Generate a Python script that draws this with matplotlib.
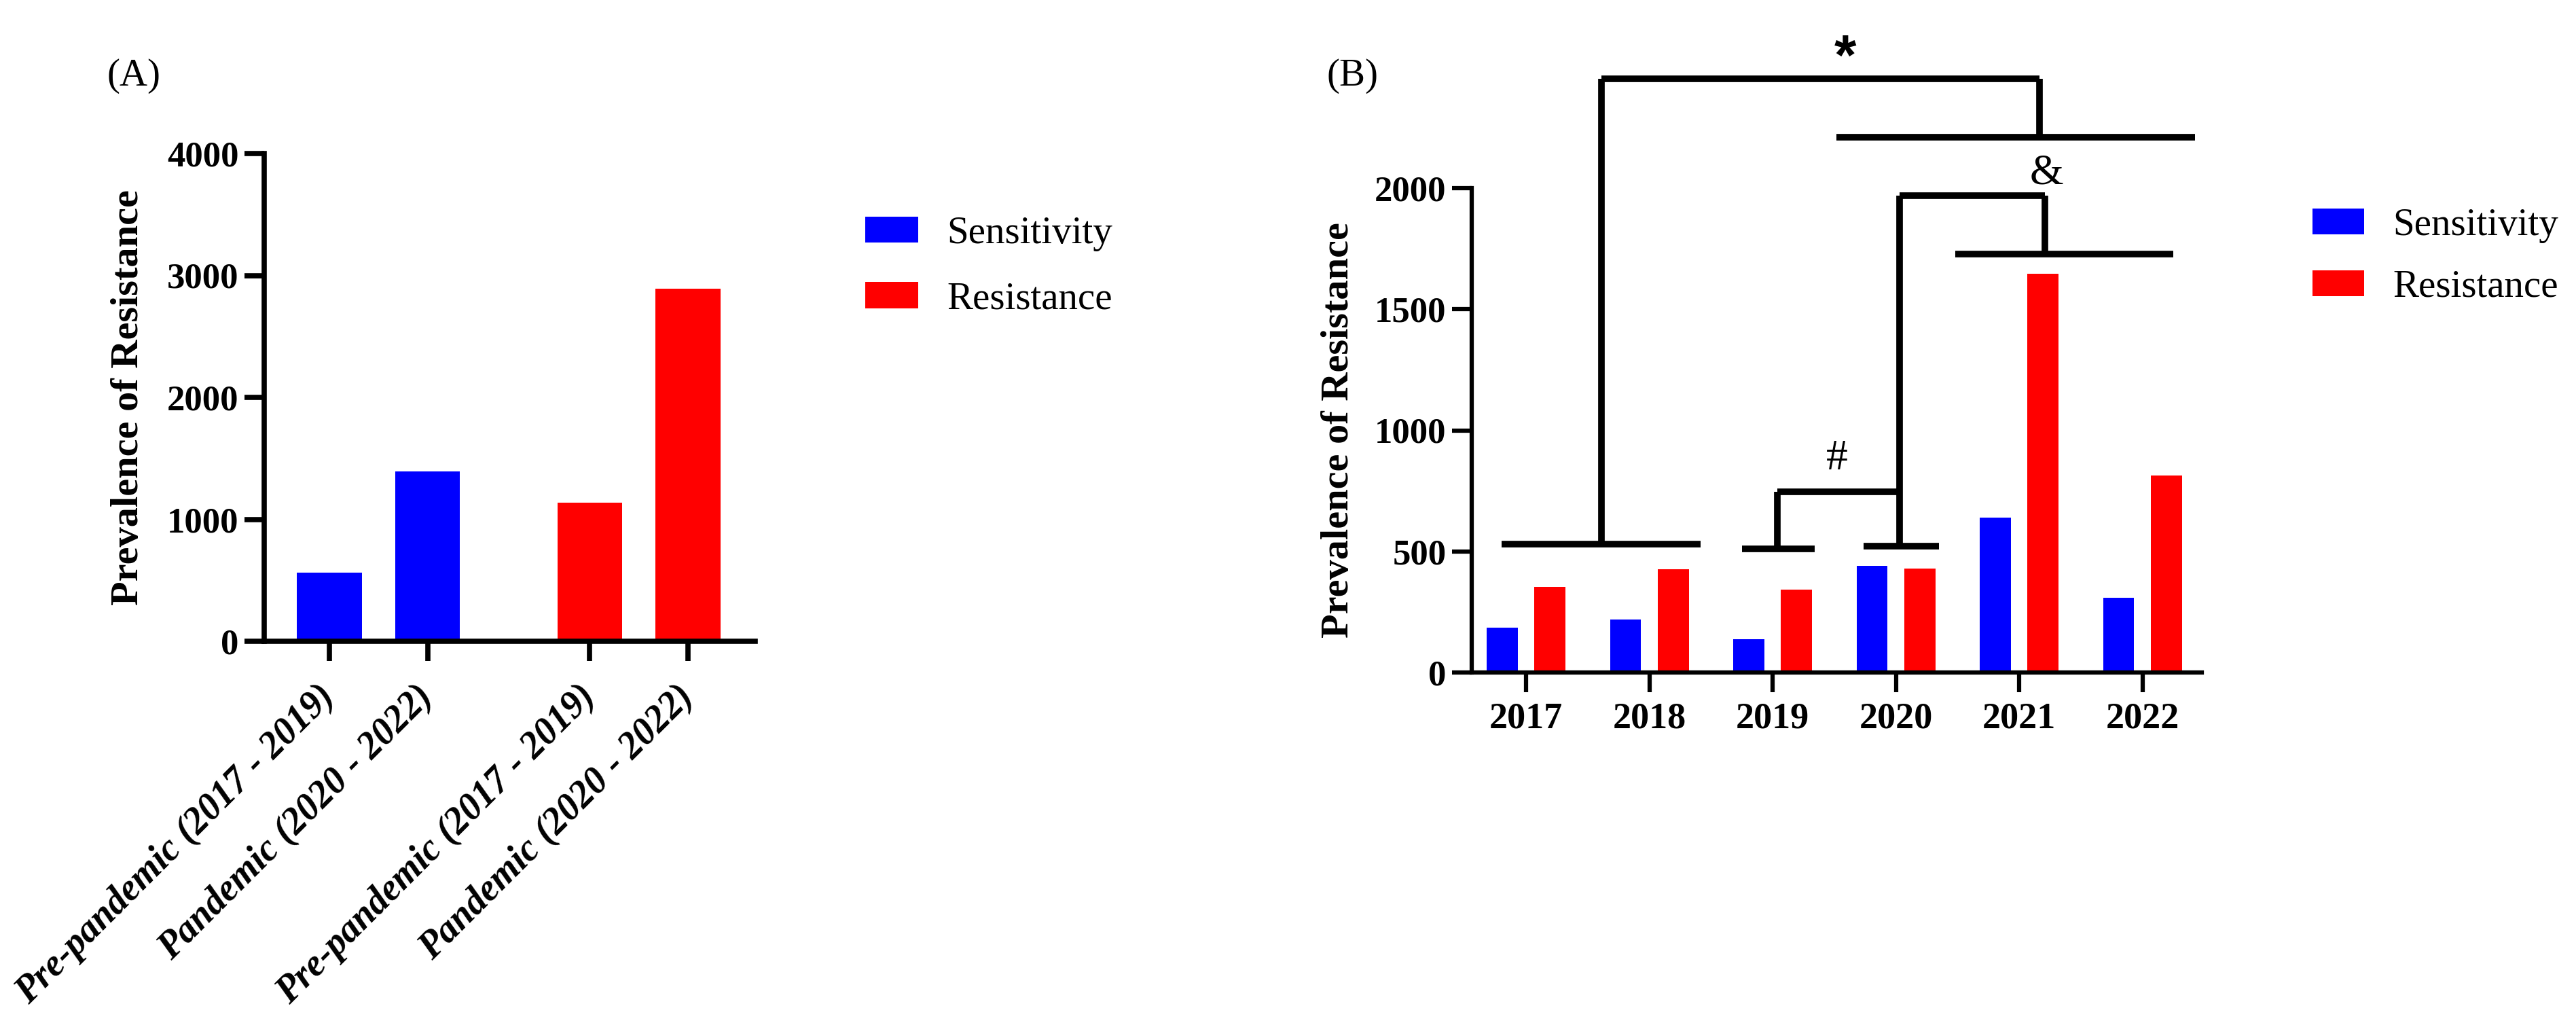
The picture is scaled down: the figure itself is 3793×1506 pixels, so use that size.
import matplotlib
matplotlib.use("Agg")
import matplotlib.pyplot as plt
from matplotlib.patches import Patch
import numpy as np

plt.rcParams['font.family'] = ['Liberation Serif', 'DejaVu Serif']

# ---------------- data ----------------
periods = ['Pre-pandemic (2017 - 2019)', 'Pandemic (2020 - 2022)']
a_sensitivity = [560, 1390]
a_resistance = [1135, 2890]

years = ['2017', '2018', '2019', '2020', '2021', '2022']
b_sensitivity = [185, 220, 138, 440, 639, 309]
b_resistance = [354, 427, 342, 429, 1646, 814]

series_names = ['Sensitivity', 'Resistance']
series_colors = ['#0000FF', '#FF0000']

W, H = 3793, 1506
fig = plt.figure(figsize=(W / 100, H / 100), dpi=100)

def style_axes(ax, lw):
    for s in ['top', 'right']:
        ax.spines[s].set_visible(False)
    for s in ['left', 'bottom']:
        ax.spines[s].set_linewidth(lw)
    ax.tick_params(axis='both', length=21, width=lw, direction='out', pad=6)

# ---------------- panel A ----------------
axA = fig.add_axes([389 / W, 1 - 944 / H, (1112 - 389) / W, (944 - 226) / H])
gap = 0.65
xa_s = np.arange(len(periods), dtype=float)
xa_r = xa_s + len(periods) + gap
axA.bar(xa_s, a_sensitivity, width=0.66, color=series_colors[0], label=series_names[0])
axA.bar(xa_r, a_resistance, width=0.66, color=series_colors[1], label=series_names[1])
axA.set_xlim(-0.662, xa_r[-1] + 0.683)
axA.set_ylim(0, 4000)
axA.set_yticks([0, 1000, 2000, 3000, 4000])
axA.set_xticks(list(xa_s) + list(xa_r))
axA.set_xticklabels(periods + periods, rotation=45, ha='right', va='center',
                    rotation_mode='anchor', fontsize=40, fontweight='bold', style='italic')
style_axes(axA, 5.5)
for lab in axA.get_yticklabels():
    lab.set_fontsize(38)
    lab.set_fontweight('bold')
axA.tick_params(axis='x', pad=32)
axA.set_ylabel('Prevalence of Resistance', fontsize=42, fontweight='bold', va='center')
axA.yaxis.set_label_coords((189 - 389) / 723, 0.5)
fig.text(157 / W, 1 - 112 / H, '(A)', fontsize=41, ha='left', va='center')

handles = [Patch(facecolor=c, label=n) for c, n in zip(series_colors, series_names)]
fig.legend(handles=handles, loc='upper left', bbox_to_anchor=(1274 / W, 1 - 318 / H),
           frameon=False, fontsize=41, handlelength=1.37, handleheight=0.67,
           handletextpad=0.75, labelspacing=0.78, borderpad=0, borderaxespad=0)

# ---------------- panel B ----------------
axB = fig.add_axes([2167 / W, 1 - 990 / H, (3242 - 2167) / W, (990 - 277) / H])
xb = np.arange(len(years), dtype=float)
off = 0.193
bw = 0.253
axB.bar(xb - off, b_sensitivity, width=bw, color=series_colors[0], label=series_names[0])
axB.bar(xb + off, b_resistance, width=bw, color=series_colors[1], label=series_names[1])
axB.set_xlim(-0.441, 5.482)
axB.set_ylim(0, 2000)
axB.set_yticks([0, 500, 1000, 1500, 2000])
axB.set_xticks(xb)
axB.set_xticklabels(years, fontsize=39, fontweight='bold')
style_axes(axB, 4.5)
axB.tick_params(axis='x', pad=10)
for lab in axB.get_yticklabels():
    lab.set_fontsize(38)
    lab.set_fontweight('bold')
axB.set_ylabel('Prevalence of Resistance', fontsize=42, fontweight='bold', va='center')
axB.yaxis.set_label_coords((1971 - 2167) / 1075, 0.5)
fig.text(1953 / W, 1 - 112 / H, '(B)', fontsize=41, ha='left', va='center')

fig.legend(handles=handles, loc='upper left', bbox_to_anchor=(3405 / W, 1 - 306 / H),
           frameon=False, fontsize=41, handlelength=1.33, handleheight=0.65,
           handletextpad=0.75, labelspacing=0.68, borderpad=0, borderaxespad=0)

# significance brackets (x in year-index units, y in data units)
bracket_segments = [
    # '*' comparison
    ([-0.196, 1.415], [531, 531]),
    ([0.61, 0.61], [531, 2452]),
    ([0.61, 4.165], [2452, 2452]),
    ([4.165, 4.165], [2452, 2210]),
    ([2.52, 5.427], [2210, 2210]),
    # '#' comparison
    ([1.75, 2.34], [511, 511]),
    ([2.04, 2.04], [511, 747]),
    ([2.04, 3.03], [747, 747]),
    ([2.74, 3.35], [521, 521]),
    ([3.03, 3.03], [521, 1970]),
    # '&' comparison
    ([3.03, 4.21], [1970, 1970]),
    ([4.21, 4.21], [1970, 1729]),
    ([3.48, 5.25], [1729, 1729]),
]
for xs, ys in bracket_segments:
    axB.plot(xs, ys, color='black', lw=7, solid_capstyle='butt', clip_on=False)

axB.text(2.59, 2530, '*', fontsize=60, fontweight='bold', ha='center', va='center',
         family=['Liberation Sans', 'DejaVu Sans'], clip_on=False)
axB.text(2.52, 880, '#', fontsize=46, ha='center', va='center', clip_on=False)
axB.text(4.22, 2060, '&', fontsize=46, ha='center', va='center', clip_on=False)

fig.savefig('out.png', dpi=100)
